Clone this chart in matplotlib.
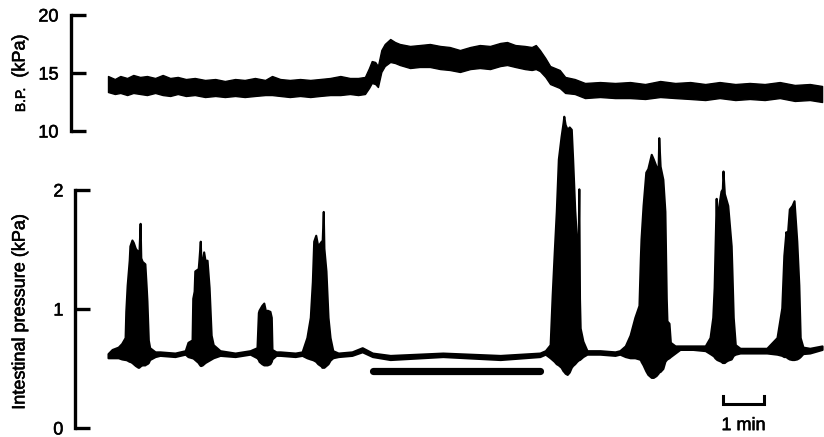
import matplotlib
matplotlib.use("Agg")
import matplotlib.pyplot as plt
import matplotlib.patheffects as pe

plt.rcParams["font.family"] = ["Liberation Sans", "DejaVu Sans"]

# Blood pressure band (time in s, upper / lower edge in kPa)
bp_t = [0, 10, 18, 28, 37, 47, 57, 69, 80, 91,
        102, 114, 127, 142, 157, 171, 186, 200, 215, 230,
        240, 252, 266, 281, 296, 310, 325, 340, 354, 366,
        376, 382, 386, 391, 395, 400, 405, 413, 420, 427,
        442, 456, 471, 486, 500, 515, 530, 544, 559, 574,
        584, 596, 610, 620, 626, 632, 640, 647, 654, 661,
        669, 683, 698, 720, 742, 764, 786, 808, 830, 852,
        874, 895, 918, 939, 961, 983, 1005, 1027, 1045]
bp_hi = [14.74, 14.48, 14.74, 14.57, 14.83, 14.66, 14.74, 14.57, 14.83, 14.57,
         14.66, 14.48, 14.57, 14.40, 14.48, 14.31, 14.48, 14.40, 14.57, 14.40,
         14.74, 14.48, 14.40, 14.48, 14.40, 14.48, 14.57, 14.74, 14.57, 14.57,
         14.66, 15.43, 16.03, 15.95, 15.60, 16.98, 17.50, 17.93, 17.67, 17.50,
         17.33, 17.41, 17.50, 17.33, 17.24, 16.98, 17.24, 17.41, 17.33, 17.59,
         17.67, 17.41, 17.33, 17.24, 17.41, 16.98, 16.29, 15.60, 15.43, 15.26,
         14.66, 14.48, 14.14, 14.22, 14.14, 14.22, 14.05, 14.31, 14.14, 14.22,
         14.05, 14.22, 14.05, 14.14, 14.05, 14.22, 13.97, 14.05, 13.88]
bp_lo = [13.36, 13.19, 13.28, 13.10, 13.28, 13.19, 13.10, 13.28, 13.10, 13.02,
         13.19, 13.02, 13.10, 12.93, 13.02, 12.93, 13.02, 12.93, 13.02, 13.10,
         13.10, 13.02, 12.93, 13.02, 12.93, 13.02, 13.10, 13.10, 13.19, 13.10,
         13.19, 13.71, 14.14, 14.05, 13.79, 15.09, 15.60, 15.95, 15.86, 15.69,
         15.43, 15.52, 15.52, 15.34, 15.26, 15.09, 15.34, 15.43, 15.34, 15.60,
         15.69, 15.52, 15.34, 15.26, 15.34, 15.17, 14.66, 14.05, 13.88, 13.71,
         13.28, 13.19, 12.84, 12.93, 12.84, 12.84, 12.76, 12.93, 12.84, 12.76,
         12.67, 12.84, 12.67, 12.76, 12.67, 12.84, 12.59, 12.67, 12.50]

# Intestinal pressure trace (time in s, upper / lower envelope in kPa)
ip_t = [0, 6, 15, 20, 25, 26, 28, 31, 32, 35, 37, 40, 44, 45, 47, 48, 50, 54, 56, 57, 59, 61, 69,
        76, 98, 113, 117, 123, 124, 126, 127, 132, 133, 135, 136, 138, 140, 142, 145, 148, 151, 154, 164,
        186, 208, 218, 220, 221, 225, 228, 231, 233, 237, 239, 240, 246,
        252, 274, 284, 291, 296, 299, 301, 304, 307, 312, 313, 315, 316, 319, 322, 325, 329, 337,
        357, 372, 387, 413, 490, 574, 632,
        640, 647, 650, 653, 656, 659, 663, 666, 667, 669, 672, 675, 678, 680, 683, 686, 688, 689, 690, 691, 695, 701,
        720, 742, 749, 757, 764, 771, 777, 779, 780, 783, 787, 790, 795, 798, 802, 805, 806, 808, 812, 815, 817, 818, 821, 823, 830, 837,
        856, 874, 881, 885, 887, 888, 890, 891, 893, 897, 899, 900, 902, 904, 907, 912, 913, 915, 918, 925,
        945, 964, 979, 986, 989, 992, 994, 997, 1001, 1004, 1008, 1011, 1013, 1017, 1027, 1045]
ip_hi = [0.625, 0.66, 0.68, 0.71, 0.76, 0.98, 1.20, 1.41, 1.53, 1.58, 1.56, 1.51, 1.48, 1.44, 1.72, 1.43, 1.40, 1.38, 1.18, 1.07, 0.74, 0.675, 0.64,
         0.64, 0.63, 0.65, 0.72, 0.74, 1.09, 1.15, 1.32, 1.34, 1.41, 1.57, 1.41, 1.40, 1.48, 1.41, 1.41, 1.18, 0.78, 0.70, 0.65,
         0.63, 0.65, 0.675, 0.97, 0.99, 1.03, 1.05, 0.97, 0.99, 0.98, 0.93, 0.66, 0.64,
         0.64, 0.63, 0.64, 0.76, 0.93, 1.23, 1.57, 1.62, 1.53, 1.57, 1.51, 1.82, 1.51, 1.32, 0.93, 0.76, 0.65, 0.63,
         0.64, 0.675, 0.63, 0.61, 0.63, 0.61, 0.63,
         0.65, 0.70, 1.12, 1.48, 1.82, 2.26, 2.45, 2.57, 2.62, 2.55, 2.51, 2.53, 2.51, 2.26, 1.84, 1.55, 1.53, 2.01, 1.09, 0.84, 0.73, 0.65,
         0.65, 0.64, 0.65, 0.69, 0.78, 0.93, 1.03, 1.43, 1.59, 1.87, 2.15, 2.18, 2.30, 2.26, 2.20, 2.18, 2.44, 2.20, 2.09, 1.82, 1.09, 0.90, 0.88, 0.72, 0.69, 0.69,
         0.69, 0.69, 0.76, 0.93, 1.18, 1.43, 1.93, 1.68, 1.84, 1.99, 2.01, 2.16, 1.97, 1.93, 1.87, 1.53, 1.34, 0.93, 0.70, 0.67,
         0.67, 0.67, 0.76, 1.01, 1.45, 1.65, 1.61, 1.84, 1.87, 1.91, 1.57, 1.20, 0.76, 0.68, 0.67, 0.69]
ip_lo = [0.59, 0.59, 0.59, 0.58, 0.575, 0.575, 0.57, 0.56, 0.56, 0.55, 0.54, 0.525, 0.51, 0.51, 0.52, 0.525, 0.53, 0.53, 0.54, 0.54, 0.55, 0.575, 0.60,
         0.61, 0.60, 0.62, 0.60, 0.59, 0.59, 0.58, 0.575, 0.55, 0.54, 0.525, 0.525, 0.53, 0.54, 0.55, 0.56, 0.57, 0.58, 0.59, 0.61,
         0.60, 0.62, 0.59, 0.575, 0.56, 0.54, 0.53, 0.53, 0.53, 0.54, 0.56, 0.58, 0.61,
         0.61, 0.60, 0.61, 0.59, 0.58, 0.575, 0.57, 0.56, 0.54, 0.52, 0.51, 0.51, 0.51, 0.525, 0.54, 0.57, 0.59, 0.60,
         0.61, 0.64, 0.60, 0.575, 0.60, 0.575, 0.60,
         0.62, 0.59, 0.575, 0.56, 0.54, 0.53, 0.51, 0.48, 0.475, 0.46, 0.45, 0.47, 0.51, 0.525, 0.54, 0.56, 0.57, 0.575, 0.575, 0.58, 0.60, 0.62,
         0.62, 0.61, 0.62, 0.60, 0.59, 0.59, 0.58, 0.575, 0.56, 0.53, 0.48, 0.45, 0.425, 0.425, 0.44, 0.46, 0.47, 0.475, 0.50, 0.56, 0.575, 0.58, 0.59, 0.60, 0.63, 0.66,
         0.66, 0.65, 0.625, 0.61, 0.60, 0.59, 0.58, 0.575, 0.57, 0.56, 0.55, 0.55, 0.55, 0.56, 0.57, 0.58, 0.59, 0.61, 0.62, 0.63,
         0.63, 0.63, 0.62, 0.61, 0.60, 0.60, 0.59, 0.58, 0.575, 0.575, 0.58, 0.59, 0.60, 0.625, 0.63, 0.66]

# infusion period (s) and its marker level, time scale bar
drug_start, drug_end, drug_level = 388, 632, 0.475
scale_start, scale_len = 900, 60

W, H = 824, 437
px_per_s = 41 / 60
x0_px = 108  # where t = 0 sits
heavy = [pe.withStroke(linewidth=0.4, foreground="black")]


def xlim_for(left_px):
    return ((left_px - x0_px) / px_per_s, (W - x0_px) / px_per_s)


def style_axis(ax, lo, hi, ticks, pad):
    for s in ["top", "right", "bottom"]:
        ax.spines[s].set_visible(False)
    ax.spines["left"].set_bounds(lo, hi)
    ax.spines["left"].set_linewidth(2.4)
    ax.set_yticks(ticks)
    ax.set_yticklabels([str(v) for v in ticks])
    ax.tick_params(axis="y", direction="in", length=11, width=2.4, pad=pad, labelsize=13)
    for lab in ax.get_yticklabels():
        lab.set_path_effects(heavy)
    ax.set_xticks([])
    ax.patch.set_visible(False)


fig = plt.figure(figsize=(W / 100, H / 100), dpi=100)

# top panel: B.P.
left_bp = 71
ax_bp = fig.add_axes([left_bp / W, (H - 131) / H, (W - left_bp) / W, 116 / H])
ax_bp.set_xlim(*xlim_for(left_bp))
ax_bp.set_ylim(10, 20)
ax_bp.fill_between(bp_t, bp_lo, bp_hi, color="black", lw=1.0)
style_axis(ax_bp, 10, 20, [10, 15, 20], 9)

# bottom panel: intestinal pressure (0 at y=428 px, 119 px per kPa)
left_ip = 74.5
ax_ip = fig.add_axes([left_ip / W, (H - 428) / H, (W - left_ip) / W, 2.75 * 119 / H])
ax_ip.set_xlim(*xlim_for(left_ip))
ax_ip.set_ylim(0, 2.75)
ax_ip.fill_between(ip_t, ip_lo, ip_hi, color="black", lw=1.5)
style_axis(ax_ip, 0, 2, [0, 1, 2], 8)

# infusion bar
ax_ip.plot([drug_start, drug_end], [drug_level, drug_level], color="black",
           lw=5.2, solid_capstyle="round")

# 1 min scale bar
sb_y, sb_h = 0.2, 0.065
ax_ip.plot([scale_start, scale_start, scale_start + scale_len, scale_start + scale_len],
           [sb_y + sb_h, sb_y, sb_y, sb_y + sb_h], color="black", lw=2.2,
           solid_joinstyle="miter")
ax_ip.text(scale_start + scale_len / 2, 0.02, "1 min", ha="center", va="center",
           fontsize=13, clip_on=False, path_effects=heavy)

# y labels
fig.text(20 / W, 1 - 56 / H, "(kPa)", rotation=90, ha="center", va="center",
         fontsize=13, path_effects=heavy)
fig.text(21 / W, 1 - 100 / H, "B.P.", rotation=90, ha="center", va="center",
         fontsize=10, path_effects=heavy)
fig.text(20 / W, 1 - 312 / H, "Intestinal pressure (kPa)", rotation=90,
         ha="center", va="center", fontsize=13, path_effects=heavy)

fig.savefig("out.png", dpi=100)
